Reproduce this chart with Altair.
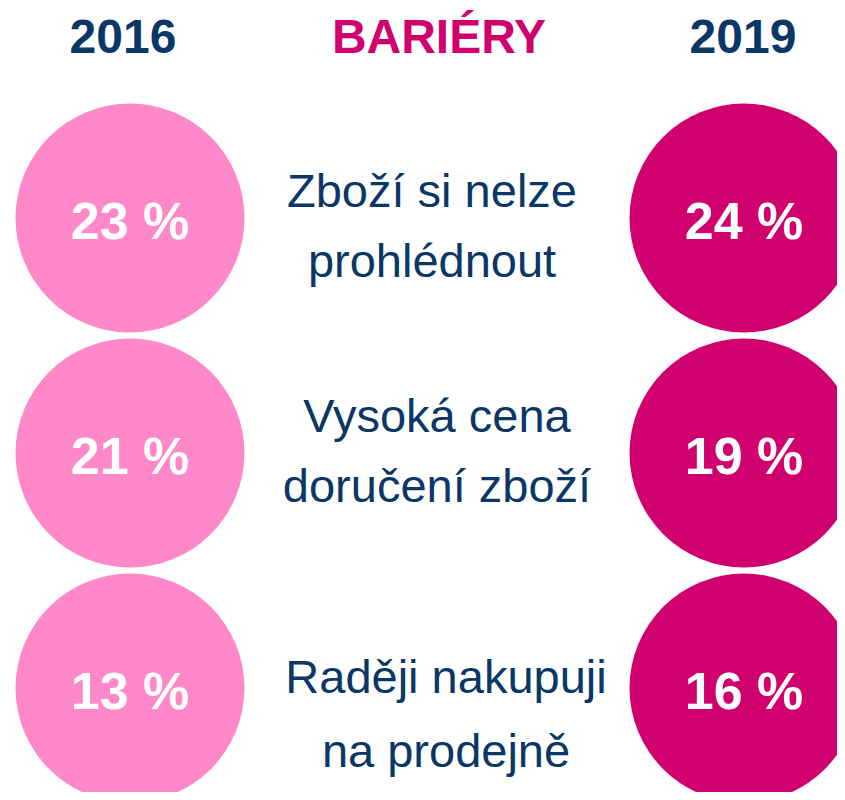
import altair as alt
import pandas as pd

# ---- data ----
barriers = ["Zboží si nelze\nprohlédnout",
            "Vysoká cena\ndoručení zboží",
            "Raději nakupuji\nna prodejně"]
values_2016 = [23, 21, 13]
values_2019 = [24, 19, 16]
years = ["2016", "2019"]
heading = "BARIÉRY"

PINK = "#FF88C8"
MAGENTA = "#D1006F"
BLUE = "#0A3766"
FONT = "Liberation Sans"

rows = []
for i in range(len(barriers)):
    rows.append({"row": i, "col": 0, "year": years[0], "value": values_2016[i],
                 "label": f"{values_2016[i]} %", "barrier": barriers[i]})
    rows.append({"row": i, "col": 2, "year": years[1], "value": values_2019[i],
                 "label": f"{values_2019[i]} %", "barrier": barriers[i]})
df = pd.DataFrame(rows)

text_df = pd.DataFrame({"row": list(range(len(barriers))), "col": [1] * len(barriers),
                        "barrier": barriers})

head_df = pd.DataFrame({"col": [0, 1, 2], "row": [-1, -1, -1],
                        "text": [years[0], heading, years[1]],
                        "kind": ["year", "title", "year"]})

xs = alt.Scale(domain=[0, 1, 2], range=[122, 424, 736], zero=False, nice=False)
ys = alt.Scale(domain=[-1, 0, 2], range=[45, 210, 680], zero=False, nice=False)
X = alt.X("col:Q", scale=xs, axis=None)
Y = alt.Y("row:Q", scale=ys, axis=None)

circles = alt.Chart(df).mark_circle(size=52441, opacity=1).encode(
    x=X, y=Y,
    color=alt.Color("year:N", scale=alt.Scale(domain=years, range=[PINK, MAGENTA]), legend=None),
)

labels = alt.Chart(df).mark_text(font=FONT, fontSize=52, fontWeight="bold", color="white",
                                 baseline="alphabetic", dy=21).encode(
    x=X, y=Y, text="label:N")

row_style = [(0, -11, 70), (5, -21, 70), (14, 5, 74)]
mid_layers = []
for i, (dx, dy, lh) in enumerate(row_style):
    mid_layers.append(
        alt.Chart(text_df).transform_filter(alt.datum.row == i).mark_text(
            font=FONT, fontSize=47, color=BLUE, baseline="alphabetic",
            lineBreak="\n", lineHeight=lh, dx=dx, dy=dy).encode(
            x=X, y=Y, text="barrier:N")
    )

hx = alt.Scale(domain=[0, 1, 2], range=[115, 431, 735], zero=False, nice=False)
heads = alt.Chart(head_df).mark_text(font=FONT, fontSize=48, fontWeight="bold",
                                     baseline="alphabetic").encode(
    x=alt.X("col:Q", scale=hx, axis=None),
    y=Y,
    text="text:N",
    color=alt.Color("kind:N", scale=alt.Scale(domain=["year", "title"], range=[BLUE, MAGENTA]),
                    legend=None),
)

chart = alt.layer(circles, labels, *mid_layers, heads).resolve_scale(
    x="independent", color="independent"
).properties(
    width=829, height=784, padding=0, autosize=alt.AutoSizeParams(type="none")
).configure_view(stroke=None)

chart.save("out.html", embed_options={"renderer": "svg", "actions": False})
